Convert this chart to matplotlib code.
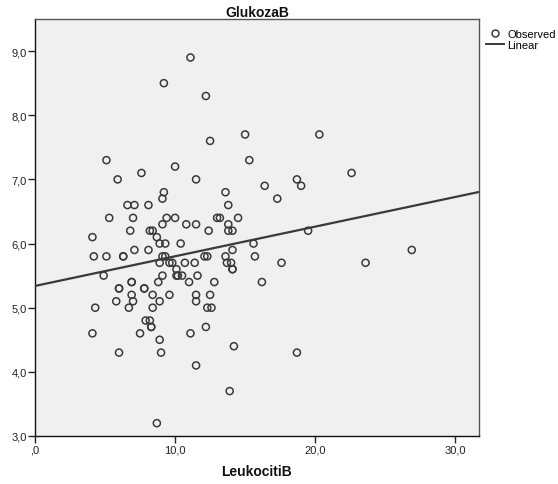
import numpy as np
import matplotlib
matplotlib.use("Agg")
import matplotlib.pyplot as plt
from matplotlib.lines import Line2D
from matplotlib.ticker import FuncFormatter

plt.rcParams['font.family'] = ['Liberation Sans', 'DejaVu Sans']

title = "GlukozaB"
x_label = "LeukocitiB"

leukociti = [
    11.1, 9.2, 12.2, 15.0, 20.3, 12.5, 5.1, 15.3, 10.0, 7.6,
    22.6, 5.9, 11.5, 18.7, 19.0, 16.4, 9.2, 13.6, 9.1, 17.3,
    6.6, 7.1, 8.1, 13.8, 5.3, 7.0, 9.4, 10.0, 13.0, 13.2,
    14.5, 9.1, 10.8, 11.5, 13.8, 6.8, 8.2, 8.4, 12.4, 13.8,
    14.1, 19.5, 4.1, 8.7, 8.9, 9.3, 10.4, 15.6, 7.1, 8.1,
    14.1, 26.9, 4.2, 5.1, 6.3, 6.3, 9.1, 9.3, 12.1, 12.3,
    13.6, 15.7, 8.9, 9.6, 9.8, 10.7, 11.4, 13.7, 14.0, 17.6,
    23.6, 10.1, 14.1, 14.1, 4.9, 9.1, 10.1, 10.2, 10.5, 11.6,
    6.9, 6.9, 8.8, 11.0, 12.8, 16.2, 6.0, 6.0, 7.8, 7.8,
    6.9, 8.4, 9.6, 11.5, 12.5, 5.8, 7.0, 8.9, 11.5, 4.3,
    6.7, 8.4, 12.3, 12.6, 7.9, 8.2, 8.3, 8.3, 12.2, 4.1,
    7.5, 11.1, 8.9, 14.2, 6.0, 9.0, 18.7, 11.5, 13.9, 8.7,
]

glukoza = [
    8.9, 8.5, 8.3, 7.7, 7.7, 7.6, 7.3, 7.3, 7.2, 7.1,
    7.1, 7.0, 7.0, 7.0, 6.9, 6.9, 6.8, 6.8, 6.7, 6.7,
    6.6, 6.6, 6.6, 6.6, 6.4, 6.4, 6.4, 6.4, 6.4, 6.4,
    6.4, 6.3, 6.3, 6.3, 6.3, 6.2, 6.2, 6.2, 6.2, 6.2,
    6.2, 6.2, 6.1, 6.1, 6.0, 6.0, 6.0, 6.0, 5.9, 5.9,
    5.9, 5.9, 5.8, 5.8, 5.8, 5.8, 5.8, 5.8, 5.8, 5.8,
    5.8, 5.8, 5.7, 5.7, 5.7, 5.7, 5.7, 5.7, 5.7, 5.7,
    5.7, 5.6, 5.6, 5.6, 5.5, 5.5, 5.5, 5.5, 5.5, 5.5,
    5.4, 5.4, 5.4, 5.4, 5.4, 5.4, 5.3, 5.3, 5.3, 5.3,
    5.2, 5.2, 5.2, 5.2, 5.2, 5.1, 5.1, 5.1, 5.1, 5.0,
    5.0, 5.0, 5.0, 5.0, 4.8, 4.8, 4.7, 4.7, 4.7, 4.6,
    4.6, 4.6, 4.5, 4.4, 4.3, 4.3, 4.3, 4.1, 3.7, 3.2,
]

x_ticks = [0, 10, 20, 30]
y_ticks = [3, 4, 5, 6, 7, 8, 9]

x = np.array(leukociti)
y = np.array(glukoza)

fig = plt.figure(figsize=(5.58, 4.85), dpi=100)
ax = fig.add_axes([35 / 558, 1 - 437 / 485, 444 / 558, 417 / 485])
ax.set_facecolor('#f0f0f0')

ax.scatter(x, y, s=26, facecolors='none', edgecolors='#3a3a3a',
           linewidths=1.1, zorder=3)

# least-squares linear fit across the full x range
slope, intercept = np.polyfit(x, y, 1)
x_min, x_max = 0, 31.7
xs = np.array([x_min, x_max])
ax.plot(xs, intercept + slope * xs, color='#3a3a3a', lw=1.6, zorder=4)

ax.set_xlim(x_min, x_max)
ax.set_ylim(3.0, 9.5)
ax.set_xticks(x_ticks)
ax.set_yticks(y_ticks)

def comma_fmt(v, pos):
    s = f"{v:.1f}".replace('.', ',')
    if s.startswith('0,'):
        s = s[1:]
    return s

ax.xaxis.set_major_formatter(FuncFormatter(comma_fmt))
ax.yaxis.set_major_formatter(FuncFormatter(comma_fmt))
ax.tick_params(axis='both', direction='out', length=5, width=1,
               color='#222222', labelsize=8, labelcolor='#222222', pad=1)

for side in ['left', 'bottom']:
    ax.spines[side].set_color('#111111')
    ax.spines[side].set_linewidth(1.0)
for side in ['top', 'right']:
    ax.spines[side].set_color('#555555')
    ax.spines[side].set_linewidth(1.0)

ax.set_title(title, fontsize=10, fontweight='bold', pad=2, color='#111111')
ax.set_xlabel(x_label, fontsize=10, fontweight='bold', labelpad=7,
              color='#111111')

handles = [
    Line2D([0], [0], marker='o', linestyle='none', markerfacecolor='none',
           markeredgecolor='#3a3a3a', markersize=5, markeredgewidth=1.1,
           label='Observed'),
    Line2D([0], [0], color='#3a3a3a', lw=1.4, label='Linear'),
]
fig.legend(handles=handles, loc='upper left',
           bbox_to_anchor=(486 / 558, 1 - 30 / 485), frameon=False,
           fontsize=8, handlelength=1.6, handletextpad=0.3,
           labelspacing=0.1, borderpad=0, borderaxespad=0)

fig.savefig('out.png', dpi=100)
